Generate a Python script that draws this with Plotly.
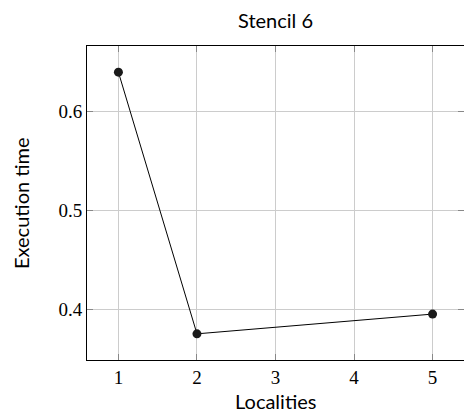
import plotly.graph_objects as go

localities = [1, 2, 5]
exec_time = [0.64, 0.375, 0.395]
x_ticks = [1, 2, 3, 4, 5]
y_ticks = [0.4, 0.5, 0.6]
title = "Stencil 6"
x_label = "Localities"
y_label = "Execution time"

fig = go.Figure()
fig.add_trace(go.Scatter(
    x=localities, y=exec_time, mode="lines+markers",
    line=dict(color="black", width=1),
    marker=dict(color="#1a1a1a", size=9),
    showlegend=False, cliponaxis=False,
))

axis_common = dict(
    showline=True, linecolor="black", linewidth=1, mirror="allticks",
    ticks="inside", ticklen=6, tickcolor="#888888", tickwidth=1,
    showgrid=True, gridcolor="#cccccc", gridwidth=1, zeroline=False,
    automargin=False,
    tickfont=dict(family="Liberation Serif", size=19, color="black"),
)

lab_font = dict(family="Lato", size=20, color="black")
fig.update_layout(
    width=464, height=414,
    margin=dict(l=87, r=0, t=46, b=54),
    paper_bgcolor="white", plot_bgcolor="white",
    xaxis=dict(range=[0.6, 5.4], tickvals=x_ticks, ticktext=[str(v) for v in x_ticks], **axis_common),
    yaxis=dict(range=[0.3485, 0.6665], tickvals=y_ticks, ticktext=[f"{v:.1f}" for v in y_ticks], **axis_common),
    annotations=[
        dict(text=title, xref="paper", yref="paper", x=0.5, y=1, yshift=26,
             xanchor="center", yanchor="middle", showarrow=False, font=lab_font),
        dict(text=x_label, xref="paper", yref="paper", x=0.5, y=0, yshift=-41,
             xanchor="center", yanchor="middle", showarrow=False, font=lab_font),
        dict(text=y_label, xref="paper", yref="paper", x=0, y=0.5, xshift=-66,
             xanchor="center", yanchor="middle", textangle=-90, showarrow=False, font=lab_font),
    ],
)
fig.write_html("out.html", config={"displayModeBar": False},
               post_script="document.body.style.margin='0';document.body.style.overflow='hidden';")
